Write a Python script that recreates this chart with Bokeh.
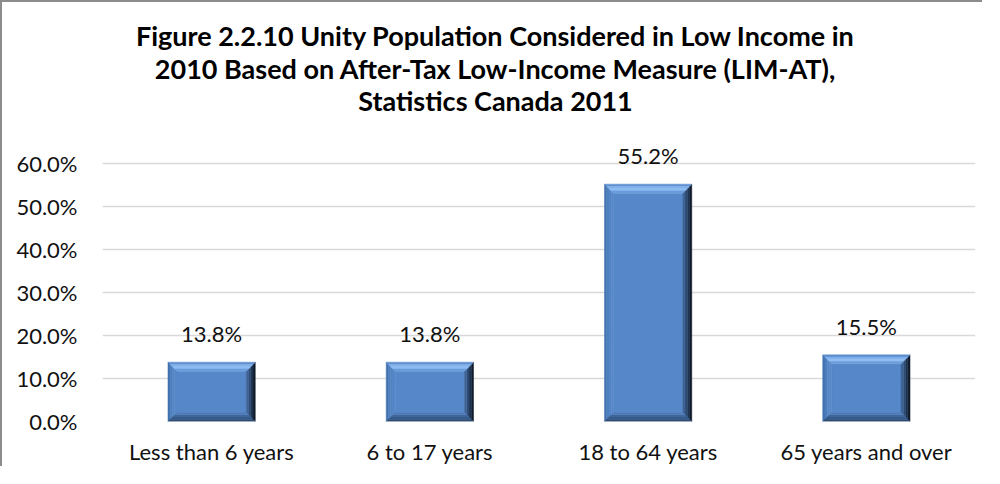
from bokeh.plotting import figure
from bokeh.models import Range1d, FixedTicker, NumeralTickFormatter, ColumnDataSource
from bokeh.core.properties import value
from bokeh.embed import file_html
from bokeh.resources import INLINE

# ---- data ----
categories = ["Less than 6 years", "6 to 17 years", "18 to 64 years", "65 years and over"]
shares = [0.138, 0.138, 0.552, 0.155]
y_ticks = [0.0, 0.1, 0.2, 0.3, 0.4, 0.5, 0.6]
title_lines = [
    "Figure 2.2.10 Unity Population Considered in Low Income in",
    "2010 Based on After-Tax Low-Income Measure (LIM-AT),",
    "Statistics Canada 2011",
]

# ---- layout constants (pixels) ----
W, H = 982, 466
ML, MR, MB = 100, 9, 47
FRAME_W = W - ML - MR
FRAME_H = H - MB
GRID_H = 258            # pixel height of the 0%..60% span
FONT = "Lato"
YMAX = y_ticks[-1]
YEND = YMAX * FRAME_H / GRID_H
PX_Y = YMAX / GRID_H    # data units per pixel (y)
PX_X = len(categories) / FRAME_W

p = figure(width=W, height=H, output_backend="svg", toolbar_location=None,
           x_range=Range1d(0, len(categories)), y_range=Range1d(0, YEND),
           min_border_left=ML, min_border_right=MR, min_border_top=0, min_border_bottom=MB)
p.styles = {"border-left": "2px solid #8C8C8C", "border-top": "2px solid #8C8C8C"}
p.outline_line_color = None
p.background_fill_color = "white"
p.border_fill_color = "white"

# grid
p.xgrid.visible = False
p.ygrid.grid_line_color = "#D9D9D9"
p.ygrid.grid_line_width = 1.5

# axes
centers = [i + 0.5 for i in range(len(categories))]
p.xaxis.ticker = FixedTicker(ticks=centers)
p.xaxis.major_label_overrides = {c: lab for c, lab in zip(centers, categories)}
p.yaxis.ticker = FixedTicker(ticks=y_ticks)
p.yaxis.formatter = NumeralTickFormatter(format="0.0%")
for ax in (p.xaxis[0], p.yaxis[0]):
    ax.axis_line_color = None
    ax.major_tick_line_color = None
    ax.minor_tick_line_color = None
    ax.major_label_text_font = FONT
    ax.major_label_text_font_size = "22px"
    ax.major_label_text_color = "#111111"
p.xaxis.major_label_standoff = 10
p.yaxis.major_label_standoff = 19

# ---- bevelled bars ----
BAR_W = 0.40
BEVEL_PX = 9
dx = BEVEL_PX * PX_X
dy = BEVEL_PX * PX_Y
N = 4
side_colors = {
    "top": ["#5D8ECE", "#80B0EB", "#8DBBF2", "#6B9CDB"],
    "left": ["#4272B0", "#4D7EBE", "#5385C5", "#5687C8"],
    "right": ["#101C2B", "#1E334F", "#2D4A72", "#3D6396"],
    "bottom": ["#2C4A72", "#355888", "#3E6599", "#4B79B7"],
}
xs, ys, cols = [], [], []
for c, v in zip(centers, shares):
    x0, x1, y0, y1 = c - BAR_W / 2, c + BAR_W / 2, 0.0, v
    for k in range(N):
        a, b = k / N, (k + 1) / N
        polys = {
            "top": ([x0 + a*dx, x1 - a*dx, x1 - b*dx, x0 + b*dx],
                    [y1 - a*dy, y1 - a*dy, y1 - b*dy, y1 - b*dy]),
            "bottom": ([x0 + a*dx, x1 - a*dx, x1 - b*dx, x0 + b*dx],
                       [y0 + a*dy, y0 + a*dy, y0 + b*dy, y0 + b*dy]),
            "left": ([x0 + a*dx, x0 + a*dx, x0 + b*dx, x0 + b*dx],
                     [y0 + a*dy, y1 - a*dy, y1 - b*dy, y0 + b*dy]),
            "right": ([x1 - a*dx, x1 - a*dx, x1 - b*dx, x1 - b*dx],
                      [y0 + a*dy, y1 - a*dy, y1 - b*dy, y0 + b*dy]),
        }
        for side in ("left", "right", "top", "bottom"):
            px, py = polys[side]
            xs.append(px)
            ys.append(py)
            cols.append(side_colors[side][k])

p.quad(left=[c - BAR_W / 2 + dx for c in centers], right=[c + BAR_W / 2 - dx for c in centers],
       bottom=[dy] * len(centers), top=[v - dy for v in shares],
       fill_color="#5687C9", line_color="#5687C9", line_width=0.5)
p.patches(xs=xs, ys=ys, fill_color=cols, line_color=cols, line_width=0.5)

# value labels
src = ColumnDataSource(dict(x=centers, y=shares, t=[f"{v*100:.1f}%" for v in shares]))
p.text(x="x", y="y", text="t", source=src, text_align="center", text_baseline="bottom",
       y_offset=-15, text_font=value(FONT), text_font_size="22px", text_color="#111111")

# title, placed in pixel offsets above the 0% line, centred on the chart
title_x_px = 393          # from frame left
title_y_px = [386, 353, 321]  # above the 0% line (line centres)
p.text(x=[title_x_px * PX_X] * 3, y=[v * PX_Y for v in title_y_px], text=title_lines,
       text_align="center", text_baseline="middle", text_font=value(FONT),
       text_font_style="bold", text_font_size="27px", text_color="#000000")

open("out.html", "w").write(file_html(p, INLINE))
